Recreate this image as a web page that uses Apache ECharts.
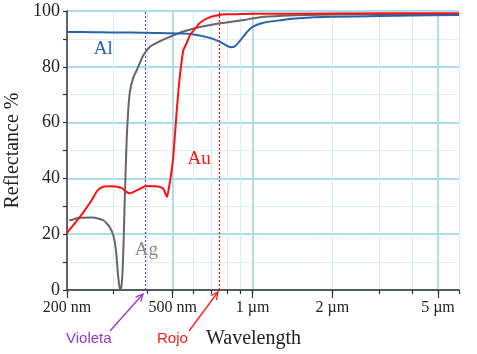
<!DOCTYPE html>
<html><head><meta charset="utf-8">
<script src="https://cdn.jsdelivr.net/npm/echarts@6/dist/echarts.min.js"></script>
<style>html,body{margin:0;padding:0;background:#fff}#c{width:477px;height:354px}</style>
</head><body><div id="c"></div>
<script>
// ---- data (wavelength in nm, reflectance in %) ----
const wlTicks = [200,300,400,500,600,700,800,900,1000,2000,3000,4000,5000,6000];
const wlMajorGrid = [500,1000,5000];
const wlLabelVals = [200,500,1000,2000,5000];
const wlLabelText = ['200 nm','500 nm','1 µm','2 µm','5 µm'];

const agWl = [204,223,250,274,290,300,306,311,315,318,321,324,327,330,333,336,340,345,355,366,387,411,435,475,533,600,634,755,929,1070,1300,1600,2500,6000];
const agR  = [24.9,25.9,26.0,25.0,22.5,19,14,6,1.5,0.3,1.5,7,18,32,44,55,64,71,76,78.7,84,87.2,88.6,90.3,92.2,93.7,94.3,95.6,96.8,97.8,98.3,98.6,98.8,98.9];

const alWl = [200,250,300,350,400,450,500,550,600,650,700,750,800,830,860,900,950,1000,1100,1300,1500,2000,3000,4000,6000];
const alR  = [92.5,92.4,92.3,92.3,92.2,92.1,92.0,91.9,91.6,91.0,90.2,89.0,87.6,87.0,87.4,89.5,92.3,94.3,95.8,96.8,97.4,97.9,98.2,98.4,98.6];

const auWl = [200,223,247,260,274,290,303,321,335,345,366,399,441,461,470,476,485,492,503,518,533,549,565,582,600,634,692,750,800,900,1000,2000,6000];
const auR  = [20.5,26,32,35.5,37,37.2,37.1,36.6,35.2,34.7,35.7,37.3,37.1,36.3,34.5,33.3,37,40.5,48,64,77,86,88.5,91.5,93,95.8,97.8,98.6,98.8,98.9,99.0,99.1,99.2];

const violetWl = 395, redWl = 750;

const zip = (a, b) => a.map((v, i) => [v, b[i]]);
const serif = '"Liberation Serif", "Times New Roman", serif';
const sans = '"Liberation Sans", Arial, sans-serif';

const chart = echarts.init(document.getElementById('c'), null, {renderer: 'canvas'});

const logAxisBase = {type: 'log', logBase: 10, min: 200, max: 6000, gridIndex: 0, position: 'bottom'};

function arrow(x0, y0, x1, y1, color) {
  const ang = Math.atan2(y1 - y0, x1 - x0), L = 8, a = 0.45;
  return [
    {type: 'line', shape: {x1: x0, y1: y0, x2: x1, y2: y1}, style: {stroke: color, lineWidth: 1.3}},
    {type: 'polyline', shape: {points: [
      [x1 - L * Math.cos(ang - a), y1 - L * Math.sin(ang - a)], [x1, y1],
      [x1 - L * Math.cos(ang + a), y1 - L * Math.sin(ang + a)]]},
      style: {stroke: color, lineWidth: 1.3, fill: null}}
  ];
}

function tag(text, wl, r, color) {
  return {symbol: 'rect', symbolSize: 1, coord: [wl, r], itemStyle: {color: 'rgba(0,0,0,0)'},
    label: {show: true, position: 'inside', formatter: text, color: color, fontFamily: serif, fontSize: 19}};
}

chart.setOption({
  animation: false,
  grid: {left: 67, right: 18, top: 11, bottom: 64, containLabel: false, outerBoundsMode: 'none'},
  xAxis: [
    Object.assign({}, logAxisBase, {
      axisLine: {show: true, lineStyle: {color: '#333', width: 1.5}},
      axisTick: {show: true, customValues: wlTicks, length: 4, lineStyle: {color: '#333', width: 1.2}},
      axisLabel: {show: false},
      splitLine: {show: true, lineStyle: {color: '#d6eef5', width: 1}}
    }),
    Object.assign({}, logAxisBase, {
      axisLine: {show: false},
      axisTick: {show: false, customValues: wlMajorGrid},
      axisLabel: {show: false},
      splitLine: {show: true, lineStyle: {color: '#9fd6e5', width: 1.5}}
    }),
    Object.assign({}, logAxisBase, {
      axisLine: {show: false},
      axisTick: {show: true, customValues: wlLabelVals, length: 8, lineStyle: {color: '#333', width: 1.2}},
      axisLabel: {show: true, customValues: wlLabelVals, margin: 10, color: '#222', fontFamily: serif, fontSize: 16,
        formatter: v => wlLabelText[wlLabelVals.indexOf(Math.round(v))] || ''},
      splitLine: {show: false}
    })
  ],
  yAxis: [
    {type: 'value', min: 0, max: 100, interval: 10, position: 'left',
      axisLine: {show: true, lineStyle: {color: '#333', width: 1.5}},
      axisTick: {show: true, length: 4, lineStyle: {color: '#333', width: 1.2}},
      axisLabel: {show: false},
      splitLine: {show: true, lineStyle: {color: '#dff1f6', width: 1}},
      name: 'Reflectance %', nameLocation: 'middle', nameGap: 44,
      nameTextStyle: {fontFamily: serif, fontSize: 20, color: '#222'}},
    {type: 'value', min: 0, max: 100, interval: 20, position: 'left',
      axisLine: {show: false}, axisTick: {show: false},
      axisLabel: {show: true, margin: 7, color: '#222', fontFamily: serif, fontSize: 18},
      splitLine: {show: true, lineStyle: {color: '#a9dde9', width: 2}}}
  ],
  series: [
    {name: 'Ag', type: 'line', xAxisIndex: 0, yAxisIndex: 0, data: zip(agWl, agR), showSymbol: false,
      smooth: 0.2, lineStyle: {color: '#666', width: 2}, z: 3,
      markPoint: {data: [tag('Ag', 398, 14.5, '#888')]}},
    {name: 'Al', type: 'line', xAxisIndex: 0, yAxisIndex: 0, data: zip(alWl, alR), showSymbol: false,
      smooth: 0.3, lineStyle: {color: '#2563b0', width: 2}, z: 4,
      markPoint: {data: [tag('Al', 274, 86.2, '#2563b0')]}},
    {name: 'Au', type: 'line', xAxisIndex: 0, yAxisIndex: 0, data: zip(auWl, auR), showSymbol: false,
      smooth: 0.2, lineStyle: {color: '#ff1010', width: 2}, z: 5,
      markPoint: {data: [tag('Au', 629, 47, '#ff1010')]},
      markLine: {symbol: 'none', silent: true, label: {show: false},
        data: [
          {xAxis: violetWl, lineStyle: {color: '#7a3cc8', type: [2, 2], width: 1.2}},
          {xAxis: redWl, lineStyle: {color: '#ff1010', type: [2, 2], width: 1.2}}
        ]}}
  ],
  graphic: [
    {type: 'text', left: 66, top: 331, style: {text: 'Violeta', fill: '#9438c8', font: '15px ' + sans}},
    {type: 'text', left: 157, top: 331, style: {text: 'Rojo', fill: '#ff1a1a', font: '15px ' + sans}},
    {type: 'text', left: 206, top: 329, style: {text: 'Wavelength', fill: '#222', font: '20px ' + serif}}
  ].concat(arrow(110, 331, 143, 294, '#9438c8'), arrow(189, 331, 218, 292, '#ff1a1a'))
});
</script>
</body></html>
